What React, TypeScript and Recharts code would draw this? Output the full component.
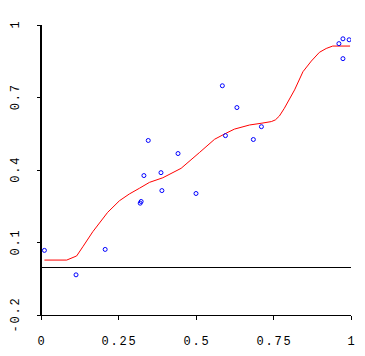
import React from "react";
import { ComposedChart, XAxis, YAxis, Scatter, Line, ReferenceLine } from "recharts";

const pointX = [0.011, 0.113, 0.207, 0.320, 0.323, 0.332, 0.346, 0.387, 0.390, 0.442, 0.500, 0.585, 0.595, 0.632, 0.685, 0.711, 0.961, 0.974, 0.974, 0.994];
const pointY = [0.069, -0.032, 0.073, 0.264, 0.271, 0.378, 0.523, 0.390, 0.316, 0.469, 0.304, 0.749, 0.543, 0.659, 0.527, 0.580, 0.923, 0.943, 0.861, 0.939];

const curveX = [0.011, 0.083, 0.115, 0.135, 0.167, 0.215, 0.253, 0.285, 0.318, 0.350, 0.393, 0.452, 0.511, 0.560, 0.597, 0.624, 0.673, 0.710, 0.743, 0.756, 0.769, 0.785, 0.818, 0.845, 0.872, 0.898, 0.920, 0.941, 0.997];
const curveY = [0.029, 0.029, 0.046, 0.084, 0.146, 0.226, 0.274, 0.302, 0.326, 0.350, 0.369, 0.408, 0.473, 0.528, 0.553, 0.570, 0.587, 0.594, 0.601, 0.608, 0.624, 0.656, 0.732, 0.807, 0.851, 0.887, 0.903, 0.913, 0.913];

const xTicks = [0, 0.25, 0.5, 0.75, 1];
const xTickLabels = ["0", "0.25", "0.5", "0.75", "1"];
const yTicks = [-0.2, 0.1, 0.4, 0.7, 1];
const yTickLabels = ["-0.2", "0.1", "0.4", "0.7", "1"];

const points = pointX.map((x, i) => ({ x, y: pointY[i] }));
const curve = curveX.map((x, i) => ({ x, fit: curveY[i] }));

const FONT = "'Liberation Mono', 'DejaVu Sans Mono', monospace";

const XTick = (props: any) => {
  const { x, y, index } = props;
  return (
    <text x={x} y={y + 23} dx={0.9} textAnchor="middle" fontFamily={FONT} fontSize={12} letterSpacing={1.8} fill="#000">
      {xTickLabels[index]}
    </text>
  );
};

const YTick = (props: any) => {
  const { x, y, index } = props;
  const bx = x - 16;
  return (
    <text x={bx} y={y} dx={0.9} textAnchor="middle" transform={`rotate(-90, ${bx}, ${y})`} fontFamily={FONT} fontSize={12} letterSpacing={1.8} fill="#000">
      {yTickLabels[index]}
    </text>
  );
};

const Ring = (props: any) => {
  const { cx, cy } = props;
  if (cx == null || cy == null) return null;
  return <circle cx={cx} cy={cy} r={2} fill="none" stroke="#0000FF" strokeWidth={1} />;
};

export default function App() {
  return (
    <div style={{ position: "absolute", left: 0, top: 0, background: "#fff" }}>
      <ComposedChart width={365} height={356} margin={{ top: 25, right: 14, bottom: 0, left: 0 }}>
        <XAxis
          type="number"
          dataKey="x"
          domain={[0, 1]}
          ticks={xTicks}
          interval={0}
          height={40.5}
          tickSize={4}
          axisLine={{ stroke: "#000", strokeWidth: 1, shapeRendering: "crispEdges" }}
          tickLine={{ stroke: "#000", shapeRendering: "crispEdges" }}
          tick={<XTick />}
          allowDataOverflow
        />
        <YAxis
          type="number"
          domain={[-0.2, 1]}
          ticks={yTicks}
          interval={0}
          width={41}
          tickSize={4}
          axisLine={{ stroke: "#000", strokeWidth: 2, shapeRendering: "crispEdges" }}
          tickLine={{ stroke: "#000", shapeRendering: "crispEdges" }}
          tick={<YTick />}
          allowDataOverflow
        />
        <ReferenceLine y={0} stroke="#000" strokeWidth={1} shapeRendering="crispEdges" ifOverflow="extendDomain" />
        <Line data={curve} dataKey="fit" type="linear" stroke="#FF0000" strokeWidth={1} dot={false} activeDot={false} isAnimationActive={false} />
        <Scatter data={points} dataKey="y" shape={<Ring />} isAnimationActive={false} />
      </ComposedChart>
    </div>
  );
}
